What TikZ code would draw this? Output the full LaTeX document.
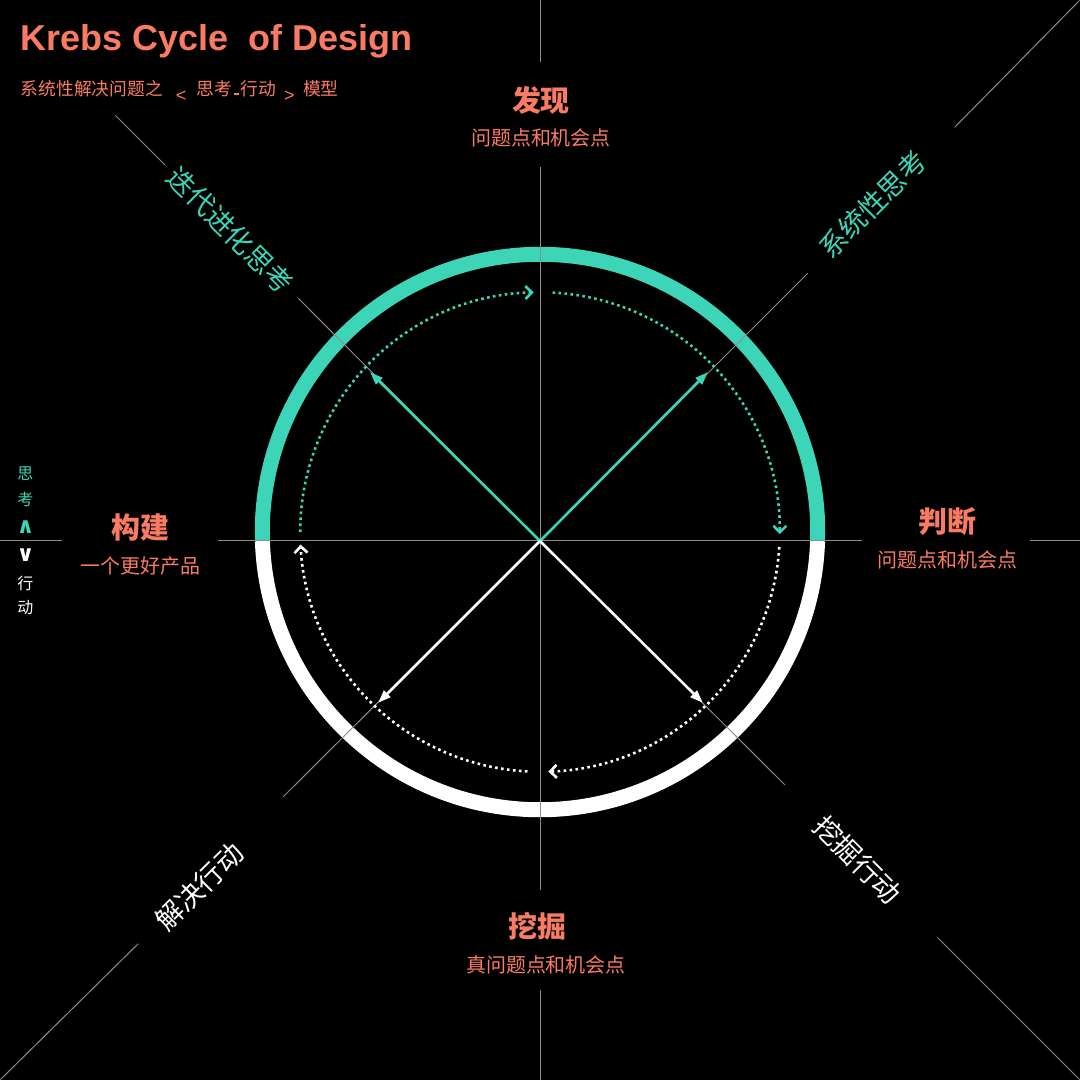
\documentclass[tikz,border=0pt]{standalone}
\usepackage{fontspec}
\setmainfont{Liberation Sans}
\newfontfamily\cjk{Noto Sans CJK SC}
\newfontfamily\symfont{DejaVu Sans}
\usepackage{xcolor}
\usetikzlibrary{arrows.meta}
\definecolor{salmon}{HTML}{F97B63}
\definecolor{mint}{HTML}{3DD5B8}
\definecolor{guidegrey}{HTML}{8C8C8C}

\begin{document}
\begin{tikzpicture}[
  x=1pt, y=1pt,
  guide/.style={draw=guidegrey, line width=1pt},
  ring/.style={line width=15pt},
  flow/.style={line width=2.6pt, dash pattern=on 2.6pt off 3.4pt, -{Straight Barb[length=6.5pt,width=13pt]}},
  ray/.style={line width=2.6pt, -{Triangle[length=13pt,width=9pt]}},
  head/.style={font=\cjk\bfseries\fontsize{29}{31}\selectfont, text=salmon, inner sep=0},
  sub/.style={font=\cjk\fontsize{20}{22}\selectfont, text=salmon, inner sep=0},
  diag/.style={font=\cjk\fontsize{27.5}{30}\selectfont, inner sep=0},
  side/.style={font=\cjk\fontsize{16}{18}\selectfont, inner sep=0},
  updown/.style={inner sep=0, font=\symfont\bfseries\fontsize{22}{24}\selectfont}
]
% Background
\fill[black] (-540,-539) rectangle (540,541);
\coordinate (o) at (0,0);
\coordinate (rc) at (0,9);

% Outer ring: thinking (top) / acting (bottom)
\draw[ring, mint] ([shift={(-1.86:278)}]rc) arc[start angle=-1.86, end angle=181.86, radius=278];
\draw[ring, white] ([shift={(181.86:278)}]rc) arc[start angle=181.86, end angle=358.14, radius=278];

% Guide lines
\draw[guide] (0,541) -- (0,479);
\draw[guide] (0,374) -- (0,-349);
\draw[guide] (0,-449) -- (0,-539);
\draw[guide] (-540,0) -- (-478,0);
\draw[guide] (-322,0) -- (322,0);
\draw[guide] (490,0) -- (540,0);
\draw[guide] (-425,426) -- (-375,376);
\draw[guide] (-242,243) -- (o);
\draw[guide] (415,414) -- (540,541);
\draw[guide] (268,268) -- (o);
\draw[guide] (o) -- (245,-244);
\draw[guide] (398,-397) -- (540,-539);
\draw[guide] (o) -- (-257,-256);
\draw[guide] (-402,-403) -- (-540,-539);

% Dotted cycle
\draw[flow, mint] ([shift={(180:240)}]rc) arc[start angle=180, end angle=91.5, radius=240];
\draw[flow, mint] ([shift={(87:240)}]rc) arc[start angle=87, end angle=-0.5, radius=240];
\draw[flow, white] ([shift={(-3.6:240)}]rc) arc[start angle=-3.6, end angle=-88, radius=240];
\draw[flow, white] ([shift={(-93:240)}]rc) arc[start angle=-93, end angle=-177, radius=240];

% Rays from centre
\coordinate (nw) at (-170,169);
\coordinate (ne) at (168,169);
\coordinate (sw) at (-162,-162);
\coordinate (se) at (163,-162);
\draw[ray, mint] (o) -- (nw);
\draw[ray, mint] (o) -- (ne);
\draw[ray, white] (o) -- (sw);
\draw[ray, white] (o) -- (se);

% Title
\node[anchor=base west, inner sep=0, text=salmon, font=\bfseries\fontsize{36}{40}\selectfont] (title) at (-520,491) {Krebs Cycle\ \ of Design};
\node[anchor=base west, inner sep=0, text=salmon, font=\cjk\fontsize{17.8}{20}\selectfont] (subtitle) at (-520,446)
  {系统性解决问题之\hspace{13pt}\raisebox{-6.5pt}{\rmfamily\fontsize{18}{20}\selectfont<}\hspace{10pt}思考\hspace{2pt}\rule{5pt}{2.5pt}\hspace{2pt}行动\hspace{7.5pt}\raisebox{-6.5pt}{\rmfamily\fontsize{18}{20}\selectfont>}\hspace{8.5pt}模型};

% Stages
\node[head] (find) at (1,441) {发现};
\node[sub] (findsub) at (1,403) {问题点和机会点};
\node[head] (judge) at (408,19) {判断};
\node[sub] (judgesub) at (408,-19) {问题点和机会点};
\node[head] (dig) at (-3,-386) {挖掘};
\node[sub] (digsub) at (6,-424) {真问题点和机会点};
\node[head] (build) at (-400,14) {构建};
\node[sub] (buildsub) at (-400,-25) {一个更好产品};

% Diagonal labels
\node[diag, text=mint, rotate=-45] (iterate) at (-310,311) {迭代进化思考};
\node[diag, text=mint, rotate=45] (system) at (333,337) {系统性思考};
\node[diag, text=white, rotate=-45] (digact) at (318,-319) {挖掘行动};
\node[diag, text=white, rotate=45] (solve) at (-341,-346) {解决行动};

% Think / act legend
\node[side, text=mint] (t1) at (-515,67) {思};
\node[side, text=mint] (t2) at (-515,42) {考};
\node[updown, text=mint] (up) at (-515,14) {∧};
\node[updown, text=white] (down) at (-515,-14) {∨};
\node[side, text=white] (a1) at (-515,-42) {行};
\node[side, text=white] (a2) at (-515,-67) {动};
\end{tikzpicture}
\end{document}
